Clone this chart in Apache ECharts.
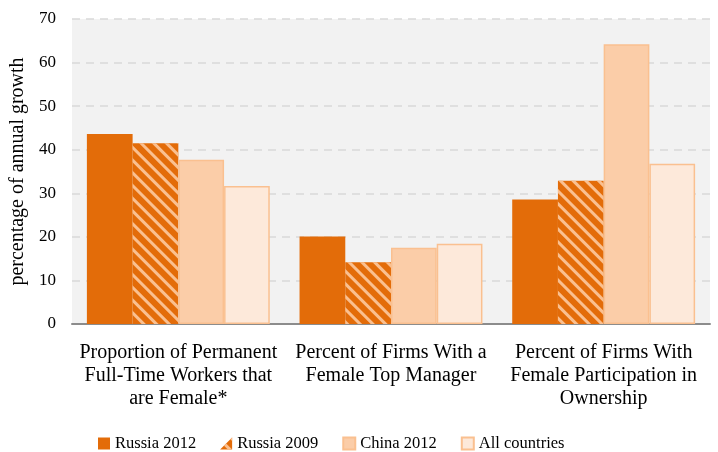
<!DOCTYPE html>
<html>
<head>
<meta charset="utf-8">
<script src="https://cdn.jsdelivr.net/npm/echarts@6/dist/echarts.min.js"></script>
<style>
  html, body { margin: 0; padding: 0; background: #fff; }
  #chart { width: 718px; height: 452px; }
</style>
</head>
<body>
<div id="chart"></div>
<script>
// categories + series
const categories = [
  "Proportion of Permanent\nFull-Time Workers that\nare Female*",
  "Percent of Firms With a\nFemale Top Manager",
  "Percent of Firms With\nFemale Participation in\nOwnership"
];
const russia2012 = [43.6, 20.1, 28.6];
const russia2009 = [41.5, 14.2, 32.9];
const china2012 = [37.7, 17.5, 64.2];
const allCountries = [31.7, 18.4, 36.8];

const FONT = "Liberation Serif";
const ORANGE = "#E36C09";
const PEACH_LINE = "#FAC090";

const chart = echarts.init(document.getElementById("chart"), null, { renderer: "canvas" });

const bar = (name, data, style) => ({
  name, type: "bar", data, barGap: "0%", barCategoryGap: "14%",
  itemStyle: style
});

chart.setOption({
  animation: false,
  textStyle: { fontFamily: FONT },
  grid: {
    left: 72, right: 8, top: 19, bottom: 128,
    show: true, backgroundColor: "#F2F2F2", borderWidth: 0
  },
  legend: {
    top: 430, left: 93, itemGap: 24, itemWidth: 12, itemHeight: 12,
    textStyle: { fontFamily: FONT, fontSize: 16.5, color: "#000" },
    data: [
      { name: "Russia 2012", icon: "rect" },
      { name: "Russia 2009", icon: "path://M1,0 L1,1 L0,1 Z" },
      { name: "China 2012", icon: "rect" },
      { name: "All countries", icon: "rect" }
    ]
  },
  xAxis: {
    type: "category", data: categories,
    axisLine: { lineStyle: { color: "#8C8C8C", width: 2 } },
    axisTick: { show: false },
    axisLabel: { color: "#000", fontSize: 20, lineHeight: 23, margin: 17, interval: 0 }
  },
  yAxis: {
    type: "value", min: 0, max: 70, interval: 10,
    name: "percentage of annual growth", nameLocation: "middle", nameGap: 40,
    nameTextStyle: { color: "#000", fontSize: 20, fontFamily: FONT },
    axisLine: { show: false }, axisTick: { show: false },
    axisLabel: { color: "#000", fontSize: 17, margin: 16 },
    splitLine: { lineStyle: { color: "#D9D9D9", type: [8, 6], width: 1.5 } }
  },
  series: [
    bar("Russia 2012", russia2012, { color: ORANGE }),
    bar("Russia 2009", russia2009, {
      color: ORANGE,
      decal: { symbol: "rect", color: PEACH_LINE, dashArrayX: [1, 0], dashArrayY: [3, 6], rotation: Math.PI / 4 }
    }),
    bar("China 2012", china2012, { color: "#FBCDA8", borderColor: PEACH_LINE, borderWidth: 1.5 }),
    bar("All countries", allCountries, { color: "#FDE9DA", borderColor: PEACH_LINE, borderWidth: 1.5 })
  ]
});
</script>
</body>
</html>
